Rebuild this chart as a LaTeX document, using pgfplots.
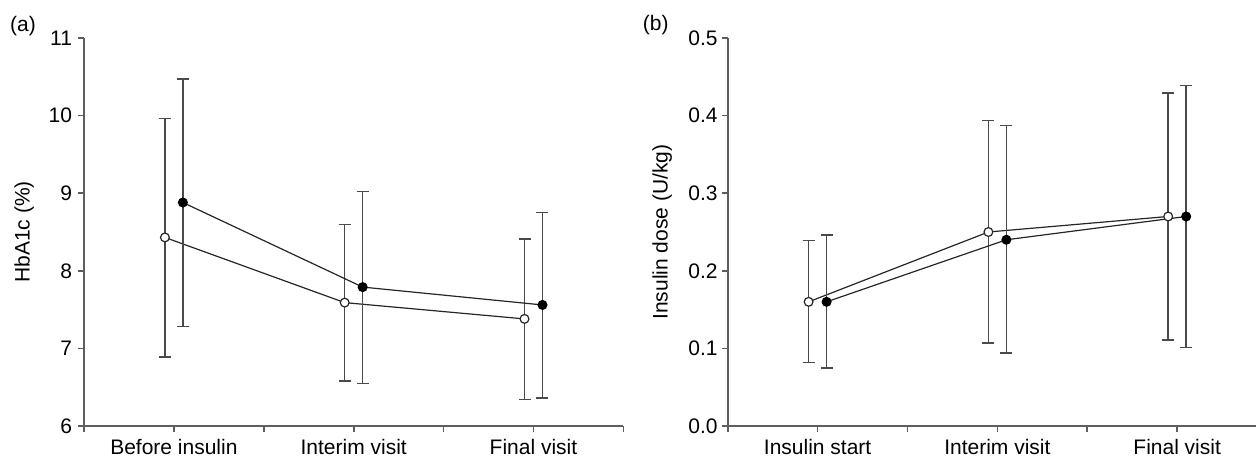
\documentclass[border=0pt]{standalone}
\usepackage{fontspec}
\setmainfont{Liberation Sans}
\usepackage{pgfplots}
\pgfplotsset{compat=1.18}
\definecolor{axisgray}{HTML}{5E5E5E}
\definecolor{errgray}{HTML}{4A4A4A}
\definecolor{linegray}{HTML}{262626}

\pgfplotsset{
  panel/.style={
    scale only axis,
    axis x line*=bottom, axis y line*=left,
    axis line style={axisgray, line width=0.8pt},
    tick style={axisgray, line width=0.8pt},
    tick align=outside, major tick length=3pt,
    font=\fontsize{10.5}{12}\selectfont,
    tick label style={font=\fontsize{10.5}{12}\selectfont},
    /pgf/number format/assume math mode=true,
    xtick={0,1,2,3,4,5,6},
    xmin=0, height=194pt,
    clip=false,
  },
  openpt/.style={linegray, line width=0.6pt, mark=*, mark size=2.2pt,
    mark options={fill=white, draw=linegray, line width=0.6pt},
    error bars/.cd, y dir=both, y explicit,
    error bar style={errgray, line width=0.7pt},
    error mark options={rotate=90, errgray, line width=0.7pt, mark size=3pt}},
  fullpt/.style={linegray, line width=0.6pt, mark=*, mark size=2.2pt,
    mark options={fill=black, draw=black, line width=0.6pt},
    error bars/.cd, y dir=both, y explicit,
    error bar style={errgray, line width=0.7pt},
    error mark options={rotate=90, errgray, line width=0.7pt, mark size=3pt}},
}

\begin{document}
\begin{tikzpicture}
\path[use as bounding box] (-42pt,-16.5pt) rectangle (586pt,213pt);

% panel (a)
\begin{axis}[panel, at={(0,0)}, anchor=south west,
  width=269.7pt, xmax=6,
  ymin=6, ymax=11, ytick={6,7,8,9,10,11},
  xticklabels={,Before insulin,,Interim visit,,Final visit,},
  yticklabel style={xshift=0.5pt},
  ylabel={HbA1c (\%)},
  ylabel style={at={(axis description cs:-0.111,0.5)}, anchor=center}]
\addplot[openpt] coordinates {
  (0.9,8.43) += (0,1.53) -= (0,1.54)
  (2.9,7.59) += (0,1.01) -= (0,1.01)
  (4.9,7.38) += (0,1.03) -= (0,1.04)};
\addplot[fullpt] coordinates {
  (1.1,8.88) += (0,1.59) -= (0,1.60)
  (3.1,7.79) += (0,1.23) -= (0,1.24)
  (5.1,7.56) += (0,1.19) -= (0,1.20)};
\node[font=\fontsize{10.5}{12}\selectfont] at (rel axis cs:0,1) [xshift=-30.5pt, yshift=6pt] {(a)};
\end{axis}

% panel (b)
\begin{axis}[panel, at={(321.85pt,0)}, anchor=south west,
  width=264.15pt, xmax=5.877,
  ymin=0, ymax=0.5, ytick={0,0.1,0.2,0.3,0.4,0.5},
  yticklabel style={xshift=1.5pt, /pgf/number format/.cd, fixed, fixed zerofill, precision=1},
  xticklabels={,Insulin start,,Interim visit,,Final visit,},
  ylabel={Insulin dose (U/kg)},
  ylabel style={at={(axis description cs:-0.124,0.5)}, anchor=center}]
\addplot[openpt] coordinates {
  (0.9,0.160) += (0,0.079) -= (0,0.078)
  (2.9,0.250) += (0,0.144) -= (0,0.143)
  (4.9,0.270) += (0,0.159) -= (0,0.159)};
\addplot[fullpt] coordinates {
  (1.1,0.160) += (0,0.086) -= (0,0.0855)
  (3.1,0.240) += (0,0.147) -= (0,0.146)
  (5.1,0.270) += (0,0.169) -= (0,0.1685)};
\node[font=\fontsize{10.5}{12}\selectfont] at (rel axis cs:0,1) [xshift=-36pt, yshift=6.5pt] {(b)};
\end{axis}
\end{tikzpicture}
\end{document}
